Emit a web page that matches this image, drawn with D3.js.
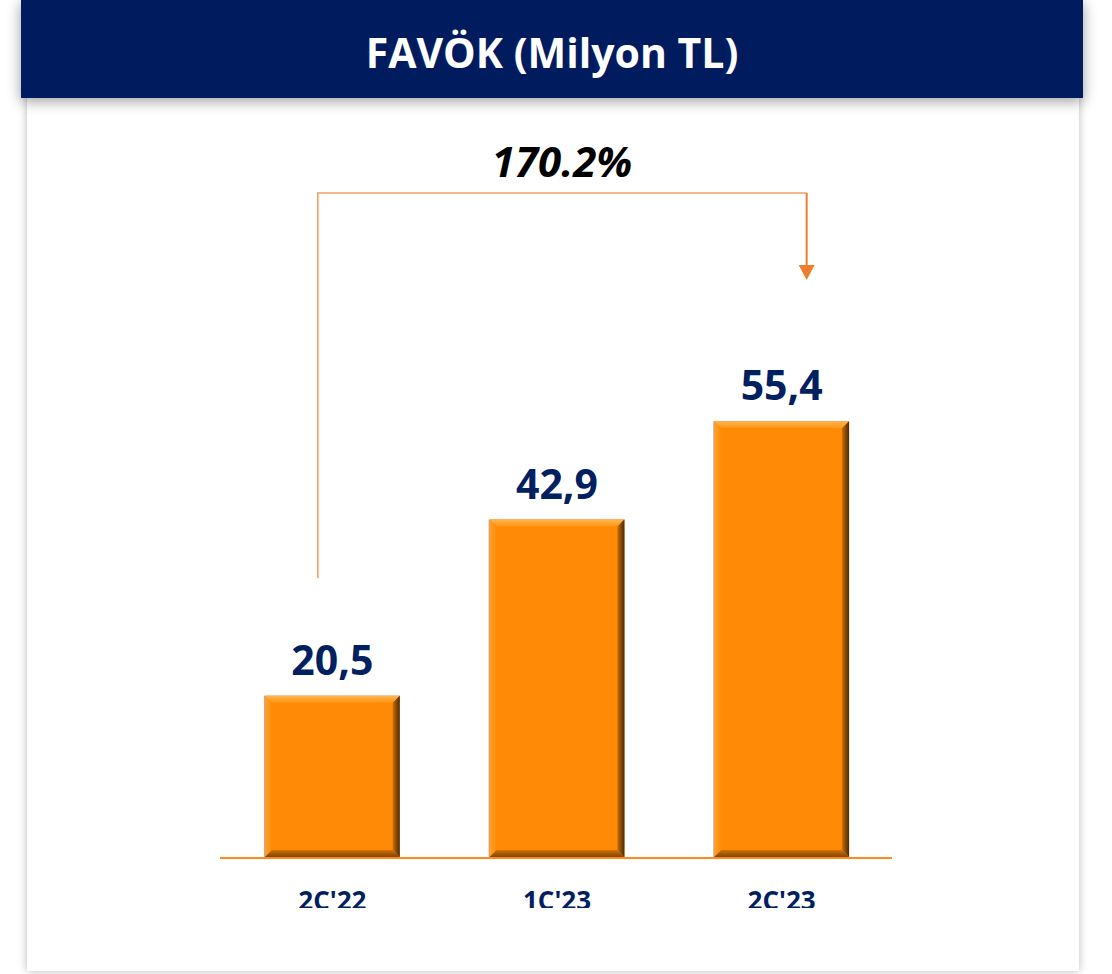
<!DOCTYPE html>
<html><head><meta charset="utf-8">
<script src="https://cdn.jsdelivr.net/npm/d3@7"></script>
<style>html,body{margin:0;padding:0;background:#fff;}svg{display:block;}</style>
</head><body>
<svg id="chart" width="1112" height="974"></svg>
<script>
const categories = ["2C'22", "1C'23", "2C'23"];
const values = [20.5, 42.9, 55.4];
const valueLabels = ["20,5", "42,9", "55,4"];
const title = "FAVÖK (Milyon TL)";
const growthLabel = "170.2%";

const svg = d3.select("#chart");
const W = 1112, H = 974;
const defs = svg.append("defs");

const sh = defs.append("filter").attr("id","shadow").attr("x","-5%").attr("y","-30%").attr("width","110%").attr("height","160%");
sh.append("feDropShadow").attr("dx",0).attr("dy",3).attr("stdDeviation",7).attr("flood-color","#000").attr("flood-opacity",0.4);
const sh2 = defs.append("filter").attr("id","shadow2").attr("x","-5%").attr("y","-5%").attr("width","110%").attr("height","110%");
sh2.append("feDropShadow").attr("dx",0).attr("dy",0).attr("stdDeviation",4).attr("flood-color","#000").attr("flood-opacity",0.28);

function lg(id, x1, y1, x2, y2, c1, c2){
  const l = defs.append("linearGradient").attr("id",id).attr("x1",x1).attr("y1",y1).attr("x2",x2).attr("y2",y2);
  l.append("stop").attr("offset","0%").attr("stop-color",c1);
  l.append("stop").attr("offset","100%").attr("stop-color",c2);
}
lg("gTop",0,0,0,1,"#FFB457","#FF960F");
lg("gRight",1,0,0,0,"#4F2A05","#C86C05");
lg("gBottom",0,1,0,0,"#7E4406","#D27205");
lg("gLeft",0,0,1,0,"#FFA030","#FF8C08");

// panel
svg.append("rect").attr("x",27).attr("y",90).attr("width",1052).attr("height",881)
  .attr("fill","#fff").attr("filter","url(#shadow2)");
// header
svg.append("rect").attr("x",21).attr("y",0).attr("width",1062).attr("height",98)
  .attr("fill","#001F5F").attr("filter","url(#shadow)");
svg.append("text").attr("x",552).attr("y",68).attr("text-anchor","middle")
  .attr("font-family","'Open Sans', sans-serif").attr("font-weight",700).attr("font-size",41)
  .attr("fill","#fff").text(title);

const x = d3.scaleBand().domain(categories).range([220, 894]).paddingInner(0.4).paddingOuter(0.2);
const y = d3.scaleLinear().domain([0, 60]).range([857, 385]);

const g = svg.append("g");
const b = 7;
const bars = g.selectAll("g.bar").data(values).join("g").attr("class","bar");
bars.each(function(v, i){
  const sel = d3.select(this);
  const x0 = x(categories[i]), x1 = x0 + x.bandwidth();
  const y0 = y(v), y1 = y(0);
  sel.append("rect").attr("x",x0-1).attr("y",y0).attr("width",x1-x0+1).attr("height",y1-y0).attr("fill","#b9b0a6");
  sel.append("rect").attr("x",x0).attr("y",y0).attr("width",x1-x0).attr("height",y1-y0).attr("fill","#FF8A05");
  sel.append("polygon").attr("points",[[x0,y0],[x1,y0],[x1-b,y0+b],[x0+b,y0+b]].join(" ")).attr("fill","url(#gTop)");
  sel.append("polygon").attr("points",[[x0,y0],[x0+b,y0+b],[x0+b,y1-b],[x0,y1]].join(" ")).attr("fill","url(#gLeft)");
  sel.append("polygon").attr("points",[[x1,y0],[x1,y1],[x1-b,y1-b],[x1-b,y0+b]].join(" ")).attr("fill","url(#gRight)");
  sel.append("polygon").attr("points",[[x0,y1],[x1,y1],[x1-b,y1-b],[x0+b,y1-b]].join(" ")).attr("fill","url(#gBottom)");
  sel.append("text").attr("x",(x0+x1)/2).attr("y",y0-21).attr("text-anchor","middle")
    .attr("font-family","'Open Sans', sans-serif").attr("font-weight",700).attr("font-size",41)
    .attr("fill","#002060").text(valueLabels[i]);
});

// axis baseline
svg.append("line").attr("x1",220).attr("x2",892).attr("y1",y(0)+1).attr("y2",y(0)+1)
  .attr("stroke","#FF8C1A").attr("stroke-width",2);

// category labels, clipped at bottom
defs.append("clipPath").attr("id","clipCat").append("rect").attr("x",0).attr("y",860).attr("width",W).attr("height",48);
svg.append("g").attr("clip-path","url(#clipCat)").selectAll("text").data(categories).join("text")
  .attr("x",d=>x(d)+x.bandwidth()/2).attr("y",910).attr("text-anchor","middle")
  .attr("font-family","'Open Sans', sans-serif").attr("font-weight",700).attr("font-size",26)
  .attr("fill","#002060").text(d=>d);

// growth bracket
const lx = x(categories[0]) + x.bandwidth()/2 - 14.5;
const rx = x(categories[2]) + x.bandwidth()/2 + 25;
const topY = 193;
svg.append("path").attr("d",`M${lx},578 L${lx},${topY} L${rx},${topY}`)
  .attr("fill","none").attr("stroke","#F3A066").attr("stroke-width",1.6);
svg.append("path").attr("d",`M${rx},${topY} L${rx},266`)
  .attr("fill","none").attr("stroke","#ED7D31").attr("stroke-width",2);
svg.append("polygon").attr("points",[[rx-8,265],[rx+8,265],[rx,280]].join(" ")).attr("fill","#ED7D31");
svg.append("text").attr("x",562).attr("y",177).attr("text-anchor","middle")
  .attr("font-family","'Open Sans', sans-serif").attr("font-weight",700).attr("font-style","italic").attr("font-size",42)
  .attr("fill","#000").text(growthLabel);
</script>
</body></html>
